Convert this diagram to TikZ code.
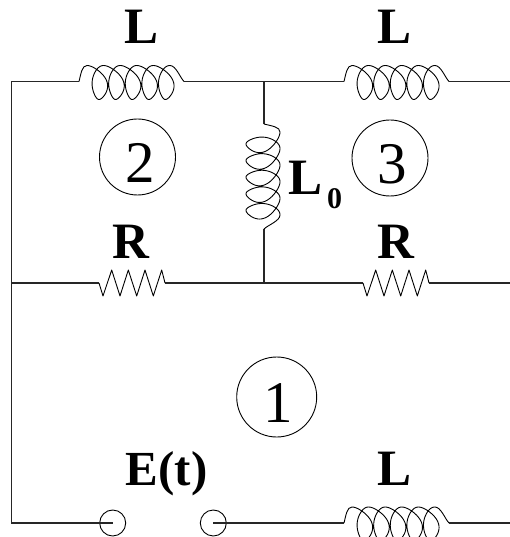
\documentclass[tikz,border=0pt]{standalone}
\usepackage{fontspec}
\setmainfont{Liberation Serif}
\tikzset{
  x=1pt,y=-1pt,
  wire/.style={line width=1.1pt,black!85},
  coilline/.style={line width=0.9pt,line join=round},
  ring/.style={circle,draw,line width=0.9pt,minimum size=76pt,inner sep=0pt},
  digit/.style={inner sep=0pt,anchor=base,font=\fontsize{59}{59}\selectfont},
  terminal/.style={circle,draw,line width=0.9pt,minimum size=26pt,inner sep=0pt},
  bigbold/.style={inner sep=0pt,anchor=base,font=\fontsize{51}{51}\selectfont\bfseries},
  pics/coil/.style={code={
    \draw[coilline] (0,0) .. controls (2,-8) and (3,-16) .. (8,-16)
      plot[domain=0:5,samples=301,variable=\u] ({8+16.6*\u+11*sin(360*\u)-0.7*sin(1080*\u)+3.7*(1-cos(360*\u))/2+2.5*sin(360*\u)*sin(360*\u)},{-16+17*(1-cos(360*\u))})
      .. controls (97,-16) and (101,-4) .. (105,0);
  }},
  pics/zigzag/.style={code={
    \draw[coilline] (0,0) -- (4,13) -- (12.7,-13) -- (21,13) -- (29.3,-13) -- (37.7,13) -- (46,-13) -- (54.3,13) -- (62.7,-13) -- (66,0);
  }}
}
\begin{document}
\begin{tikzpicture}
\useasboundingbox (0,0) rectangle (510,537);
% corners and junctions
\coordinate (tl) at (11.5,81.5);
\coordinate (tm) at (264,81.5);
\coordinate (tr) at (510,81.5);
\coordinate (ml) at (11.5,283);
\coordinate (mm) at (264,283);
\coordinate (mr) at (510,283);
\coordinate (bl) at (11.5,523);
\coordinate (br) at (510,523);
% component end points
\coordinate (c1a) at (79,81.5);  \coordinate (c1b) at (184,81.5);
\coordinate (c2a) at (344,81.5); \coordinate (c2b) at (449,81.5);
\coordinate (c3a) at (344,523);  \coordinate (c3b) at (449,523);
\coordinate (c0a) at (264,124);  \coordinate (c0b) at (264,229);
\coordinate (r1a) at (99,283);   \coordinate (r1b) at (165,283);
\coordinate (r2a) at (363,283);  \coordinate (r2b) at (429,283);
% terminals
\node[terminal] (ta) at (112.7,523) {};
\node[terminal] (tb) at (213.3,523) {};
% wires
\draw[wire] (c1a) -- (tl) -- (bl) -- (ta.center);
\draw[wire] (c1b) -- (tm) -- (c2a);
\draw[wire] (c2b) -- (tr);
\draw[wire] (ml) -- (r1a);
\draw[wire] (r1b) -- (mm) -- (r2a);
\draw[wire] (r2b) -- (mr);
\draw[wire] (tm) -- (c0a);
\draw[wire] (c0b) -- (mm);
\draw[wire] (tb.center) -- (c3a);
\draw[wire] (c3b) -- (br);
% components
\pic at (c1a) {coil};
\pic at (c2a) {coil};
\pic at (c3a) {coil};
\pic[rotate=-90] at (c0a) {coil};
\pic at (r1a) {zigzag};
\pic at (r2a) {zigzag};
% numbered loops
\node[ring] (n2) at (137.5,157) {};
\node[ring] (n3) at (390,158) {};
\node[ring,minimum size=80pt] (n1) at (276.7,397) {};
\node[digit] (d2) at (140,183) {2};
\node[digit] (d3) at (392,184) {3};
\node[digit] (d1) at (278,422) {1};
% labels
\node[bigbold] (l1) at (141.5,44) {L};
\node[bigbold] (l2) at (395,44) {L};
\node[bigbold] (l3) at (395,485) {L};
\node[bigbold] (l0) at (305.5,195) {L};
\node[inner sep=0pt,anchor=base,font=\fontsize{30}{30}\selectfont\bfseries] (l0s) at (334.5,208) {0};
\node[bigbold] (r1) at (131,258.5) {R};
\node[bigbold] (r2) at (396,258) {R};
\node[bigbold,font=\fontsize{49}{49}\selectfont\bfseries] (et) at (166.5,485) {E(t)};
\end{tikzpicture}
\end{document}
